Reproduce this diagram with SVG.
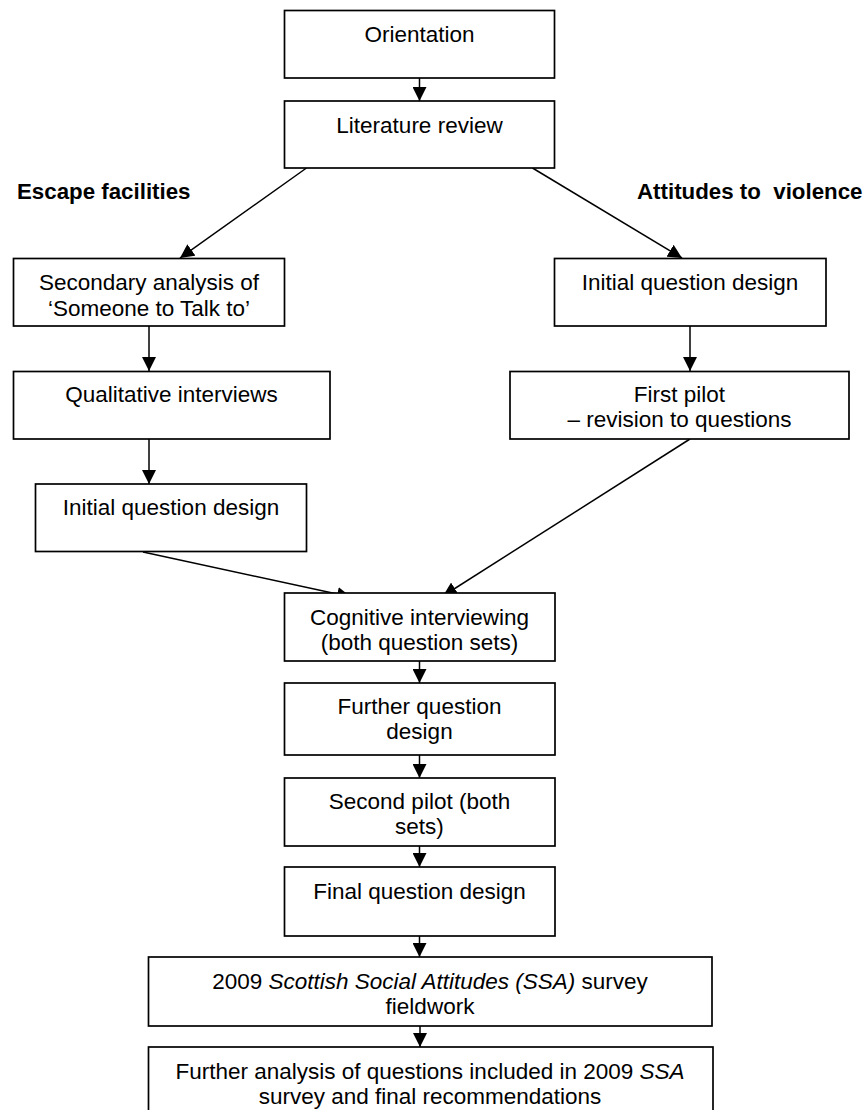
<svg xmlns="http://www.w3.org/2000/svg" width="865" height="1110" viewBox="0 0 865 1110">
<style>
  .box { fill: #ffffff; stroke: #000000; stroke-width: 1.7; }
  .t { font-family: "Liberation Sans", Arial, sans-serif; font-size: 22.5px; fill: #000000; text-anchor: middle; }
  .lbl { font-family: "Liberation Sans", Arial, sans-serif; font-size: 22.3px; font-weight: bold; fill: #000000; white-space: pre; }
  .c { fill: none; stroke: #000000; stroke-width: 1.5; marker-end: url(#ah); }
  .i { font-style: italic; }
</style>
<defs>
  <marker id="ah" markerUnits="userSpaceOnUse" markerWidth="15" markerHeight="14" refX="14" refY="7" orient="auto">
    <path d="M0,0 L14,7 L0,14 z" fill="#000000"/>
  </marker>
</defs>
<rect width="865" height="1110" fill="#ffffff"/>

<g id="labels">
  <text class="lbl" x="17" y="199">Escape facilities</text>
  <text class="lbl" x="637" y="199" xml:space="preserve">Attitudes to  violence</text>
</g>

<g id="connectors">
  <line class="c" x1="419.5" y1="78" x2="419.5" y2="101"/>
  <line class="c" x1="306.5" y1="168" x2="180" y2="258"/>
  <line class="c" x1="532.5" y1="168" x2="682" y2="258"/>
  <line class="c" x1="149" y1="326" x2="149" y2="371"/>
  <line class="c" x1="690" y1="326" x2="690" y2="371"/>
  <line class="c" x1="149" y1="439" x2="149" y2="484"/>
  <line class="c" x1="143" y1="552" x2="351" y2="597"/>
  <line class="c" x1="690" y1="439" x2="443" y2="596"/>
  <line class="c" x1="419.5" y1="661" x2="419.5" y2="683"/>
  <line class="c" x1="419.5" y1="755" x2="419.5" y2="778"/>
  <line class="c" x1="419.5" y1="846" x2="419.5" y2="867"/>
  <line class="c" x1="419.5" y1="936" x2="419.5" y2="957"/>
  <line class="c" x1="420" y1="1026" x2="420" y2="1047"/>
</g>

<g id="orientation">
  <rect class="box" x="284.5" y="10.5" width="270" height="67.5"/>
  <text class="t" x="419.5" y="41.5">Orientation</text>
</g>
<g id="literature-review">
  <rect class="box" x="284.5" y="101" width="270" height="67"/>
  <text class="t" x="419.5" y="132.5">Literature review</text>
</g>
<g id="secondary-analysis">
  <rect class="box" x="13.5" y="258.5" width="271" height="67.5"/>
  <text class="t" x="149" y="290">Secondary analysis of</text>
  <text class="t" x="149" y="315.5">‘Someone to Talk to’</text>
</g>
<g id="initial-design-right">
  <rect class="box" x="554.5" y="258.5" width="271.5" height="67.5"/>
  <text class="t" x="690" y="290">Initial question design</text>
</g>
<g id="qualitative-interviews">
  <rect class="box" x="13.5" y="371.5" width="316.5" height="67.5"/>
  <text class="t" x="171.5" y="401.5">Qualitative interviews</text>
</g>
<g id="first-pilot">
  <rect class="box" x="510" y="371.5" width="339" height="67.5"/>
  <text class="t" x="679.5" y="401.5">First pilot</text>
  <text class="t" x="679.5" y="426.5">– revision to questions</text>
</g>
<g id="initial-design-left">
  <rect class="box" x="35.5" y="484" width="271" height="67.5"/>
  <text class="t" x="171" y="515">Initial question design</text>
</g>
<g id="cognitive-interviewing">
  <rect class="box" x="284.5" y="593" width="270.5" height="68"/>
  <text class="t" x="419.5" y="625">Cognitive interviewing</text>
  <text class="t" x="419.5" y="650">(both question sets)</text>
</g>
<g id="further-question-design">
  <rect class="box" x="284.5" y="683" width="270.5" height="72"/>
  <text class="t" x="419.5" y="714">Further question</text>
  <text class="t" x="419.5" y="739">design</text>
</g>
<g id="second-pilot">
  <rect class="box" x="284.5" y="778" width="270.5" height="68"/>
  <text class="t" x="419.5" y="808.5">Second pilot (both</text>
  <text class="t" x="419.5" y="833.5">sets)</text>
</g>
<g id="final-question-design">
  <rect class="box" x="284.5" y="867" width="270.5" height="69"/>
  <text class="t" x="419.5" y="899">Final question design</text>
</g>
<g id="ssa-fieldwork">
  <rect class="box" x="148.5" y="957" width="563.5" height="69"/>
  <text class="t" x="430" y="989">2009 <tspan class="i">Scottish Social Attitudes (SSA)</tspan> survey</text>
  <text class="t" x="430" y="1014">fieldwork</text>
</g>
<g id="further-analysis">
  <rect class="box" x="148.5" y="1047" width="564.5" height="80"/>
  <text class="t" x="430" y="1078.5">Further analysis of questions included in 2009 <tspan class="i">SSA</tspan></text>
  <text class="t" x="430" y="1103.5">survey and final recommendations</text>
</g>
</svg>
